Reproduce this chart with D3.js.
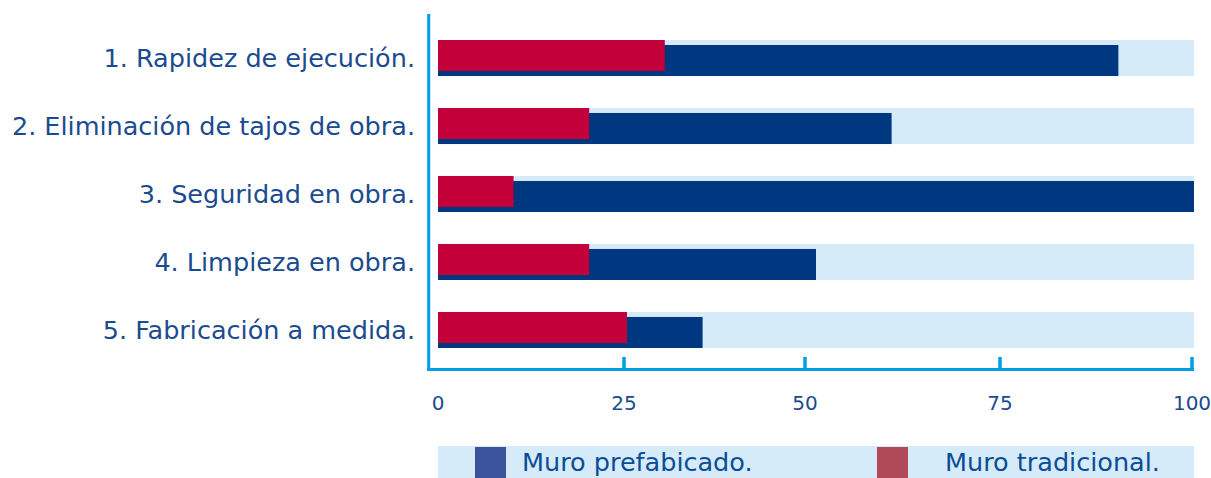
<!DOCTYPE html>
<html>
<head>
<meta charset="utf-8">
<script src="https://cdn.jsdelivr.net/npm/d3@7"></script>
<style>
  body { margin: 0; background: #fff; }
  text { font-family: "DejaVu Sans", sans-serif; }
</style>
</head>
<body>
<div id="chart"></div>
<script>
// chart data
const categories = [
    "1. Rapidez de ejecución.",
    "2. Eliminación de tajos de obra.",
    "3. Seguridad en obra.",
    "4. Limpieza en obra.",
    "5. Fabricación a medida."
];
const prefabricado = [90, 60, 100, 50, 35];
const tradicional = [30, 20, 10, 20, 25];
const tickValues = [0, 25, 50, 75, 100];
const legendLabels = ["Muro prefabicado.", "Muro tradicional."];

const width = 1211, height = 478;
const svg = d3.select("#chart")
    .append("svg")
    .attr("width", width)
    .attr("height", height);

// scales
let x = d3.scaleLinear().domain([0, 100]).range([438, 1194]);
// the printed axis is not evenly spaced, so it gets its own piecewise scale
let xAxis = d3.scaleLinear().domain(tickValues).range([438, 624, 805, 1000, 1192]);
let y = d3.scaleBand()
    .domain(categories)
    .range([26.4, 361.6])
    .paddingInner(0.47)
    .paddingOuter(0.2);
let bh = y.bandwidth();

// background bands
svg.selectAll("rect.bg")
    .data(categories)
    .join("rect")
    .attr("class", "bg")
    .attr("x", x(0))
    .attr("y", d => y(d))
    .attr("width", x(100) - x(0))
    .attr("height", bh)
    .attr("fill", "#d5ebf9");

// prefabricated (blue) bars, shifted down a bit
svg.selectAll("rect.pre")
    .data(prefabricado)
    .join("rect")
    .attr("class", "pre")
    .attr("x", x(0))
    .attr("y", (d, i) => y(categories[i]) + 5)
    .attr("width", d => x(d) - x(0))
    .attr("height", bh - 5)
    .attr("fill", "#003781");

// traditional (red) bars
svg.selectAll("rect.tra")
    .data(tradicional)
    .join("rect")
    .attr("class", "tra")
    .attr("x", x(0))
    .attr("y", (d, i) => y(categories[i]))
    .attr("width", d => x(d) - x(0))
    .attr("height", bh - 5)
    .attr("fill", "#c3003a");

// category labels
svg.selectAll("text.cat")
    .data(categories)
    .join("text")
    .attr("class", "cat")
    .attr("x", 415)
    .attr("y", d => y(d) + bh / 2)
    .attr("dy", "0.35em")
    .attr("text-anchor", "end")
    .attr("font-size", 25.5)
    .attr("fill", "#1b4b8f")
    .text(d => d);

// axes lines
const axisColor = "#009fe3";
svg.append("line")
    .attr("x1", 428.7).attr("x2", 428.7)
    .attr("y1", 14).attr("y2", 371)
    .attr("stroke", axisColor).attr("stroke-width", 3);
svg.append("line")
    .attr("x1", 427).attr("x2", 1194)
    .attr("y1", 369.5).attr("y2", 369.5)
    .attr("stroke", axisColor).attr("stroke-width", 3);

// ticks (pointing up) and labels
let ticks = svg.append("g");
ticks.selectAll("line")
    .data(tickValues.slice(1))
    .join("line")
    .attr("x1", d => xAxis(d)).attr("x2", d => xAxis(d))
    .attr("y1", 357).attr("y2", 370)
    .attr("stroke", axisColor).attr("stroke-width", 3.5);
ticks.selectAll("text")
    .data(tickValues)
    .join("text")
    .attr("x", d => xAxis(d))
    .attr("y", 403)
    .attr("dy", "0.35em")
    .attr("text-anchor", "middle")
    .attr("font-family", "'DejaVu Sans Condensed', 'DejaVu Sans', sans-serif")
    .attr("font-size", 20)
    .attr("fill", "#1b4b8f")
    .text(d => d);

// legend
let legend = svg.append("g");
legend.append("rect")
    .attr("x", x(0)).attr("y", 446)
    .attr("width", x(100) - x(0)).attr("height", 32)
    .attr("fill", "#d5ebf9");
const legendColors = ["#3a539b", "#b04a58"];
const legendX = [475, 877];
const legendTextX = [522, 945];
legend.selectAll("rect.sw")
    .data(legendLabels)
    .join("rect")
    .attr("class", "sw")
    .attr("x", (d, i) => legendX[i])
    .attr("y", 447)
    .attr("width", 31)
    .attr("height", 31)
    .attr("fill", (d, i) => legendColors[i]);
legend.selectAll("text")
    .data(legendLabels)
    .join("text")
    .attr("x", (d, i) => legendTextX[i])
    .attr("y", 471)
    .attr("font-size", 25.5)
    .attr("fill", "#0a4d96")
    .text(d => d);
</script>
</body>
</html>
